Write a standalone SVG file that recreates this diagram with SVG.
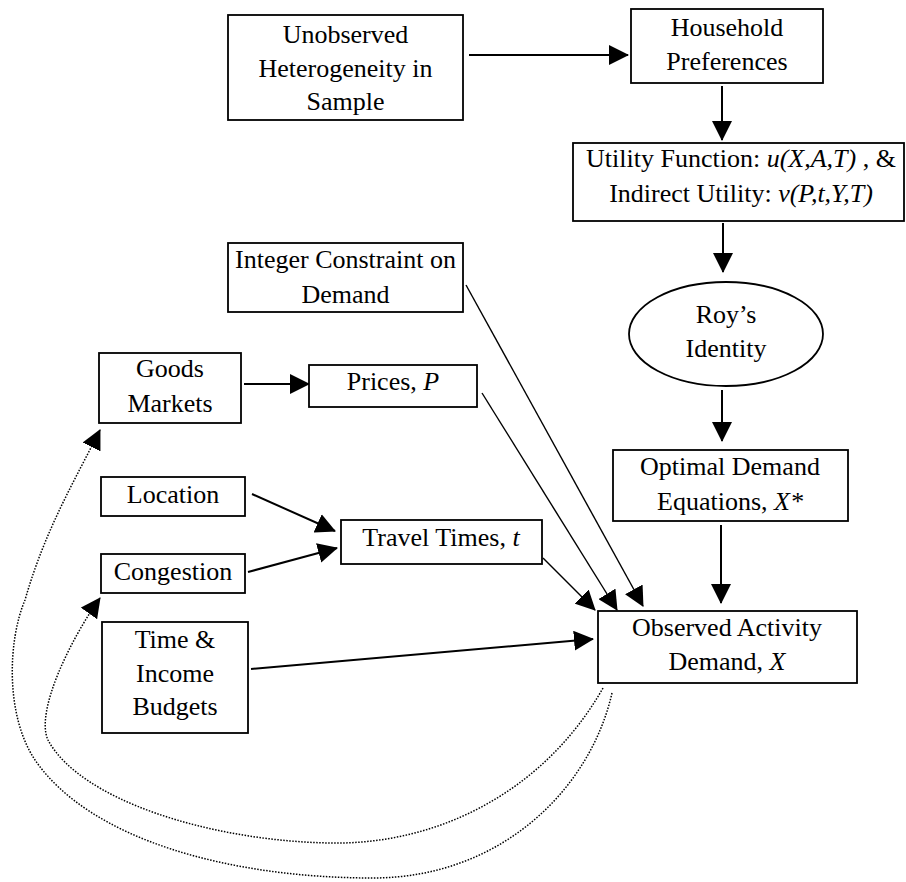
<svg xmlns="http://www.w3.org/2000/svg" width="906" height="882" viewBox="0 0 906 882">
<defs>
<style>
.box{fill:#fff;stroke:#000;stroke-width:1.8}
.t{font-family:"Liberation Serif","Times New Roman",serif;font-size:26px;fill:#000;text-anchor:middle}
.i{font-style:italic}
.ar{fill:none;stroke:#000;stroke-width:2}
.th{fill:none;stroke:#000;stroke-width:1.4}
.dot{fill:none;stroke:#000;stroke-width:1.5;stroke-dasharray:1.5 1.5}
</style>
<marker id="ah" markerUnits="userSpaceOnUse" markerWidth="20" markerHeight="20" refX="19" refY="10" orient="auto" viewBox="0 0 20 20">
<path d="M0,0 L20,10 L0,20 z" fill="#000"/>
</marker>
</defs>
<rect width="906" height="882" fill="#fff"/>

<g id="connectors">
<line class="ar" x1="469" y1="55" x2="628" y2="55" marker-end="url(#ah)"/>
<line class="ar" x1="722" y1="86" x2="722" y2="140" marker-end="url(#ah)"/>
<line class="ar" x1="723" y1="223" x2="723" y2="272" marker-end="url(#ah)"/>
<line class="ar" x1="722" y1="390" x2="722" y2="441" marker-end="url(#ah)"/>
<line class="ar" x1="721" y1="525" x2="721" y2="603" marker-end="url(#ah)"/>
<line class="ar" x1="244" y1="384" x2="309" y2="384" marker-end="url(#ah)"/>
<line class="ar" x1="252" y1="494" x2="335" y2="531" marker-end="url(#ah)"/>
<line class="ar" x1="248" y1="572" x2="337" y2="548" marker-end="url(#ah)"/>
<line class="th" x1="543" y1="558" x2="595" y2="610" marker-end="url(#ah)"/>
<line class="th" x1="482" y1="393" x2="617" y2="610" marker-end="url(#ah)"/>
<line class="th" x1="466" y1="285" x2="643" y2="606" marker-end="url(#ah)"/>
<line class="ar" x1="251" y1="669" x2="593" y2="639" marker-end="url(#ah)"/>
<path class="dot" d="M603,688 C545,790 440,845 330,843 C210,841 80,800 48,740 C35,712 70,640 100,598" marker-end="url(#ah)"/>
<path class="dot" d="M612,693 C590,790 500,878 373,878 C230,878 90,840 35,760 C5,715 8,640 25,600 C45,530 75,480 100,430" marker-end="url(#ah)"/>
</g>

<g id="unobserved">
<rect class="box" x="228" y="15" width="235" height="105"/>
<text class="t" x="345.5" y="43">Unobserved</text>
<text class="t" x="345.5" y="77">Heterogeneity in</text>
<text class="t" x="345.5" y="110">Sample</text>
</g>

<g id="household">
<rect class="box" x="631" y="9" width="192" height="74"/>
<text class="t" x="727" y="36">Household</text>
<text class="t" x="727" y="70">Preferences</text>
</g>

<g id="utility">
<rect class="box" x="573" y="143" width="331" height="78"/>
<text class="t" x="741" y="167">Utility Function: <tspan class="i">u(X,A,T)</tspan> , &amp;</text>
<text class="t" x="741" y="202">Indirect Utility: <tspan class="i">v(P,t,Y,T)</tspan></text>
</g>

<g id="integer">
<rect class="box" x="228" y="243" width="235" height="69"/>
<text class="t" x="345.5" y="268">Integer Constraint on</text>
<text class="t" x="345.5" y="303">Demand</text>
</g>

<g id="roy">
<ellipse class="box" cx="726" cy="334" rx="97" ry="52"/>
<text class="t" x="726" y="323">Roy’s</text>
<text class="t" x="726" y="357">Identity</text>
</g>

<g id="goods">
<rect class="box" x="99" y="353" width="142" height="70"/>
<text class="t" x="170" y="377">Goods</text>
<text class="t" x="170" y="412">Markets</text>
</g>

<g id="prices">
<rect class="box" x="309" y="365" width="168" height="42"/>
<text class="t" x="393" y="390">Prices, <tspan class="i">P</tspan></text>
</g>

<g id="optimal">
<rect class="box" x="613" y="450" width="235" height="71"/>
<text class="t" x="730" y="475">Optimal Demand</text>
<text class="t" x="730" y="510">Equations, <tspan class="i">X*</tspan></text>
</g>

<g id="location">
<rect class="box" x="101" y="477" width="144" height="39"/>
<text class="t" x="173" y="503">Location</text>
</g>

<g id="travel">
<rect class="box" x="341" y="520" width="201" height="44"/>
<text class="t" x="441" y="546">Travel Times, <tspan class="i">t</tspan></text>
</g>

<g id="congestion">
<rect class="box" x="101" y="554" width="144" height="39"/>
<text class="t" x="173" y="580">Congestion</text>
</g>

<g id="budgets">
<rect class="box" x="102" y="622" width="146" height="111"/>
<text class="t" x="175" y="648">Time &amp;</text>
<text class="t" x="175" y="682">Income</text>
<text class="t" x="175" y="715">Budgets</text>
</g>

<g id="observed">
<rect class="box" x="598" y="611" width="259" height="72"/>
<text class="t" x="727" y="636">Observed Activity</text>
<text class="t" x="727" y="670">Demand, <tspan class="i">X</tspan></text>
</g>
</svg>
